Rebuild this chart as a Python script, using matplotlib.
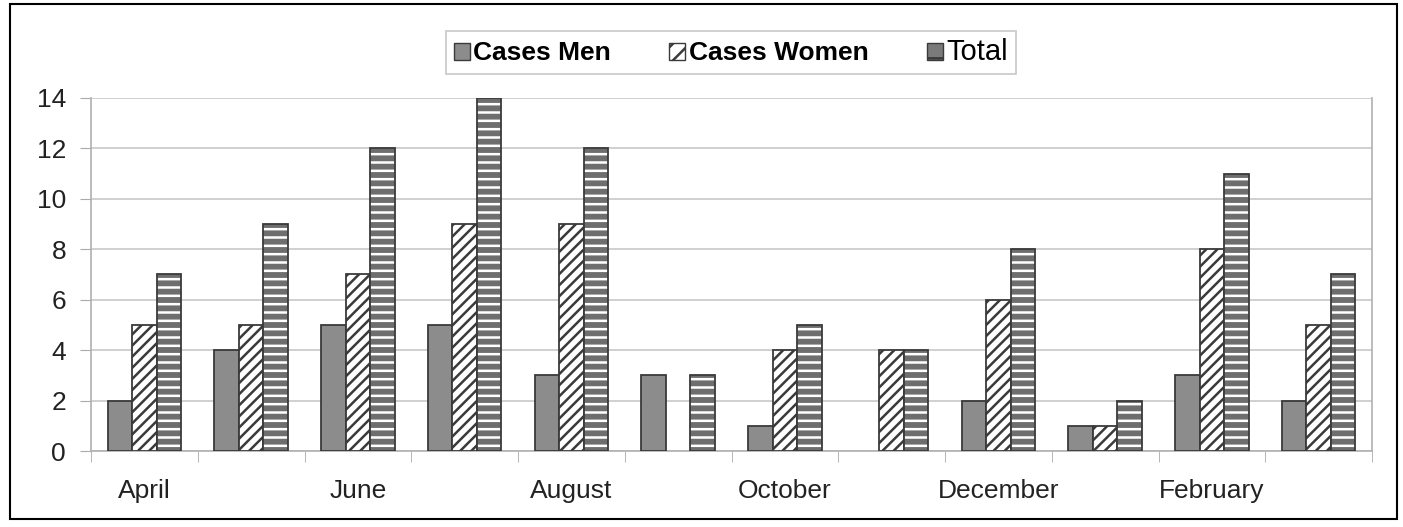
import numpy as np
import matplotlib
matplotlib.use("Agg")
import matplotlib.pyplot as plt
from matplotlib.patches import Rectangle

plt.rcParams['font.family'] = ['Liberation Sans', 'DejaVu Sans']
plt.rcParams['hatch.linewidth'] = 1.8

months = ["April", "May", "June", "July", "August", "September", "October",
          "November", "December", "January", "February", "March"]
cases_men = [2, 4, 5, 5, 3, 3, 1, 0, 2, 1, 3, 2]
cases_women = [5, 5, 7, 9, 9, 0, 4, 4, 6, 1, 8, 5]
total = [7, 9, 12, 14, 12, 3, 5, 4, 8, 2, 11, 7]

def nozero(v):
    # zero values draw no bar at all
    v = np.array(v, dtype=float)
    return np.where(v == 0, np.nan, v)

fig = plt.figure(figsize=(14.03, 5.27), dpi=100)
ax = fig.add_axes([0.0649, 0.1442, 0.913, 0.670])

x = np.arange(len(months))
w = 0.23
edge = '#3a3a3a'

ax.bar(x - w, nozero(cases_men), w, color='#8c8c8c', edgecolor=edge, linewidth=1.3, zorder=3)
ax.bar(x, nozero(cases_women), w, color='white', edgecolor=edge, hatch='///', linewidth=1.3, zorder=3)
# total: gray with white horizontal stripes
ax.bar(x + w, nozero(total), w, color='#6e6e6e', edgecolor='white', hatch='--', linewidth=0, zorder=3)
ax.bar(x + w, nozero(total), w, fill=False, edgecolor=edge, linewidth=1.3, zorder=4)

ax.set_xlim(-0.5, len(months) - 0.5)
ax.set_ylim(0, 14)
ax.set_yticks(range(0, 15, 2))
ax.yaxis.grid(True, color='#c8c8c8', linewidth=1.2, zorder=0)
ax.tick_params(axis='y', labelsize=19, length=8, color='#aaaaaa', labelcolor='#222222', pad=10)

ax.set_xticks(x[::2])
ax.set_xticklabels(months[::2])
ax.set_xticks(np.arange(-0.5, len(months), 1), minor=True)
ax.tick_params(axis='x', which='major', length=0, labelsize=19, labelcolor='#222222', pad=20)
ax.tick_params(axis='x', which='minor', length=8, color='#aaaaaa', direction='out')

for s in ['left', 'bottom', 'right', 'top']:
    ax.spines[s].set_color('#b0b0b0')
    ax.spines[s].set_linewidth(1.2)
ax.spines['top'].set_visible(False)

# legend
h1 = Rectangle((0, 0), 1, 1, facecolor='#8c8c8c', edgecolor=edge)
h2 = Rectangle((0, 0), 1, 1, facecolor='white', edgecolor=edge, hatch='//')
h3 = Rectangle((0, 0), 1, 1, facecolor='#7a7a7a', edgecolor=edge, hatch='-')
leg = fig.legend([h1, h2, h3], ["Cases Men", "Cases Women", "Total"], ncol=3,
                 loc='center', bbox_to_anchor=(731 / 1403, 1 - 52.5 / 527),
                 fontsize=19, frameon=True, fancybox=False, edgecolor='#bbbbbb',
                 handlelength=0.6, handleheight=0.6, handletextpad=0.15,
                 columnspacing=2.2, borderpad=0.3)
leg.get_frame().set_linewidth(1.2)
leg.get_texts()[0].set_fontweight('bold')
leg.get_texts()[1].set_fontweight('bold')
leg.get_texts()[2].set_fontsize(21)

# outer border
fig.patches.append(Rectangle((10 / 1403, 1 - 519 / 527), 1387 / 1403, 515 / 527,
                             transform=fig.transFigure, fill=False,
                             edgecolor='black', linewidth=1.5))

fig.savefig("out.png", dpi=100)
